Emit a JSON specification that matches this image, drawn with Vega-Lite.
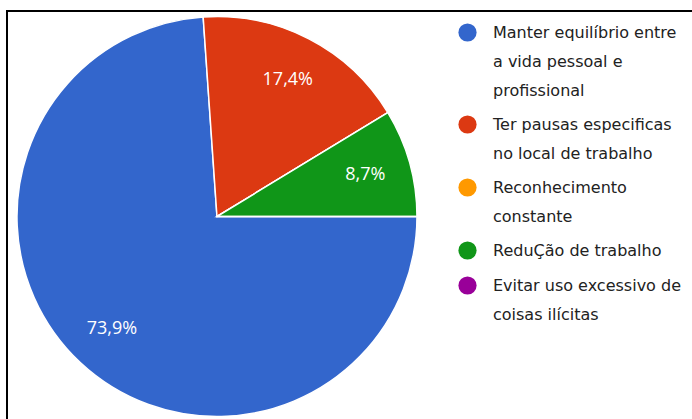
{
  "$schema": "https://vega.github.io/schema/vega-lite/v6.json",
  "width": 688,
  "height": 411,
  "autosize": {"type": "none"},
  "padding": {"left": 7, "top": 11, "right": -3, "bottom": -3},
  "background": "white",
  "config": {
    "view": {"stroke": "black", "strokeWidth": 2},
    "style": {"guide-label": {"lineHeight": 29}}
  },
  "data": {
    "values": [
      {"categoria": "Manter equilíbrio entre|a vida pessoal e|profissional", "valor": 73.9, "rotulo": "73,9%", "ordem": 1},
      {"categoria": "Ter pausas especificas|no local de trabalho", "valor": 17.4, "rotulo": "17,4%", "ordem": 2},
      {"categoria": "Reconhecimento|constante", "valor": 0, "rotulo": "", "ordem": 3},
      {"categoria": "ReduÇão de trabalho", "valor": 8.7, "rotulo": "8,7%", "ordem": 4},
      {"categoria": "Evitar uso excessivo de|coisas ilícitas", "valor": 0, "rotulo": "", "ordem": 5}
    ]
  },
  "encoding": {
    "theta": {"field": "valor", "type": "quantitative", "stack": true, "scale": {"range": [1.5708, 7.854]}},
    "order": {"field": "ordem", "type": "quantitative"},
    "x": {"datum": 0.3052, "type": "quantitative", "scale": {"domain": [0, 1]}, "axis": null},
    "color": {
      "field": "categoria",
      "type": "nominal",
      "scale": {
        "domain": [
          "Manter equilíbrio entre|a vida pessoal e|profissional",
          "Ter pausas especificas|no local de trabalho",
          "Reconhecimento|constante",
          "ReduÇão de trabalho",
          "Evitar uso excessivo de|coisas ilícitas"
        ],
        "range": ["#3366cc", "#dc3912", "#ff9900", "#109618", "#990099"]
      },
      "legend": {
        "title": null,
        "orient": "none",
        "legendX": 451,
        "legendY": 12,
        "direction": "vertical",
        "symbolType": "circle",
        "symbolSize": 330,
        "symbolStrokeWidth": 0,
        "labelExpr": "split(datum.label, '|')",
        "labelFont": "DejaVu Sans",
        "labelFontSize": 16,
        "labelColor": "#222222",
        "labelLimit": 0,
        "labelOffset": 16,
        "rowPadding": 16
      }
    }
  },
  "layer": [
    {
      "mark": {"type": "arc", "outerRadius": 200, "stroke": "white", "strokeWidth": 1.5}
    },
    {
      "transform": [{"filter": "datum.valor > 0"}],
      "mark": {"type": "text", "radius": 154, "font": "Open Sans", "fontSize": 18, "fill": "white", "align": "center", "baseline": "middle"},
      "encoding": {
        "text": {"field": "rotulo", "type": "nominal"},
        "color": {"value": "white"}
      }
    }
  ]
}
